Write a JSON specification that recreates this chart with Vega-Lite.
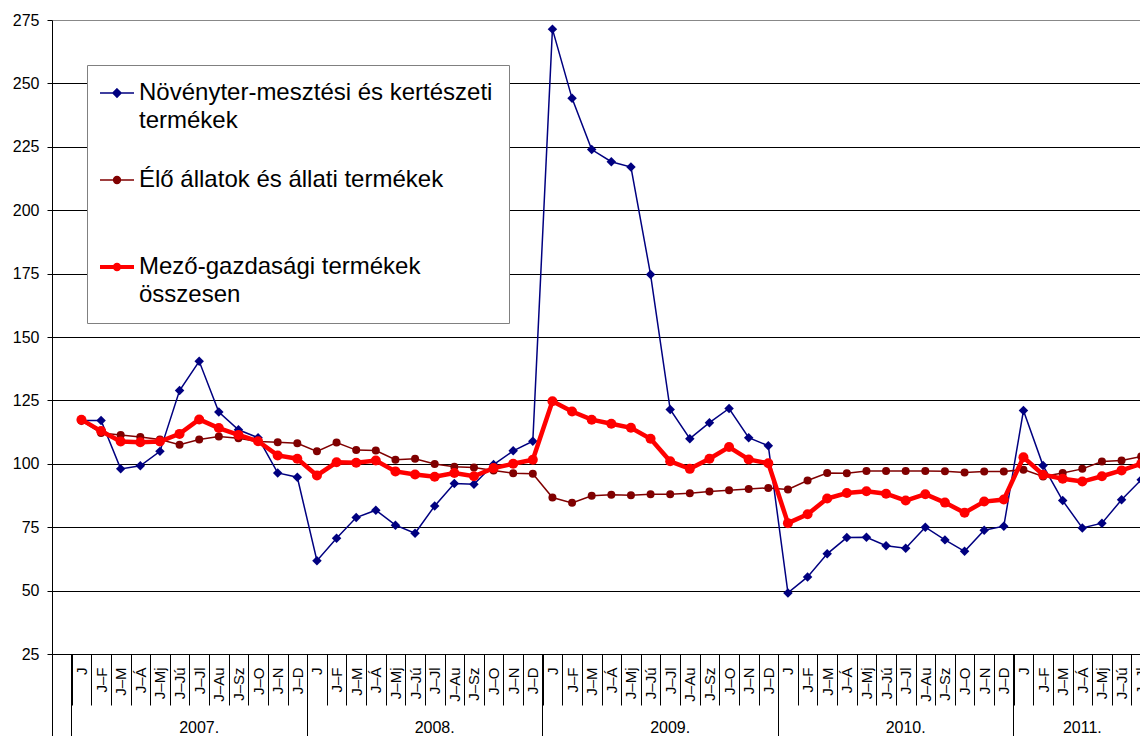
{
  "$schema": "https://vega.github.io/schema/vega-lite/v6.json",
  "width": 1088,
  "height": 634,
  "autosize": {"type": "none"},
  "padding": {"left": 52, "top": 20, "right": 0, "bottom": 82},
  "background": "#ffffff",
  "config": {
    "view": {"stroke": null},
    "font": "Liberation Sans",
    "axis": {"labelFont": "Liberation Sans", "labelColor": "#000000", "domainColor": "#000000", "tickColor": "#000000", "domainWidth": 1, "tickWidth": 1}
  },
  "data": {"values": [
    {"t":"2007-01","s":"A","v":117.1},{"t":"2007-02","s":"A","v":117.1},{"t":"2007-03","s":"A","v":98.0},{"t":"2007-04","s":"A","v":99.2},{"t":"2007-05","s":"A","v":104.9},{"t":"2007-06","s":"A","v":128.9},{"t":"2007-07","s":"A","v":140.4},{"t":"2007-08","s":"A","v":120.4},{"t":"2007-09","s":"A","v":113.4},{"t":"2007-10","s":"A","v":110.3},{"t":"2007-11","s":"A","v":96.4},{"t":"2007-12","s":"A","v":94.7},
    {"t":"2008-01","s":"A","v":61.8},{"t":"2008-02","s":"A","v":70.6},{"t":"2008-03","s":"A","v":78.8},{"t":"2008-04","s":"A","v":81.7},{"t":"2008-05","s":"A","v":75.8},{"t":"2008-06","s":"A","v":72.6},{"t":"2008-07","s":"A","v":83.4},{"t":"2008-08","s":"A","v":92.2},{"t":"2008-09","s":"A","v":91.9},{"t":"2008-10","s":"A","v":99.7},{"t":"2008-11","s":"A","v":105.1},{"t":"2008-12","s":"A","v":108.9},
    {"t":"2009-01","s":"A","v":271.4},{"t":"2009-02","s":"A","v":244.1},{"t":"2009-03","s":"A","v":223.9},{"t":"2009-04","s":"A","v":219.1},{"t":"2009-05","s":"A","v":217.0},{"t":"2009-06","s":"A","v":174.6},{"t":"2009-07","s":"A","v":121.4},{"t":"2009-08","s":"A","v":109.9},{"t":"2009-09","s":"A","v":116.2},{"t":"2009-10","s":"A","v":121.8},{"t":"2009-11","s":"A","v":110.3},{"t":"2009-12","s":"A","v":107.1},
    {"t":"2010-01","s":"A","v":49.1},{"t":"2010-02","s":"A","v":55.4},{"t":"2010-03","s":"A","v":64.5},{"t":"2010-04","s":"A","v":70.9},{"t":"2010-05","s":"A","v":71.0},{"t":"2010-06","s":"A","v":67.7},{"t":"2010-07","s":"A","v":66.7},{"t":"2010-08","s":"A","v":75.0},{"t":"2010-09","s":"A","v":70.0},{"t":"2010-10","s":"A","v":65.5},{"t":"2010-11","s":"A","v":73.8},{"t":"2010-12","s":"A","v":75.4},
    {"t":"2011-01","s":"A","v":121.0},{"t":"2011-02","s":"A","v":99.3},{"t":"2011-03","s":"A","v":85.5},{"t":"2011-04","s":"A","v":74.7},{"t":"2011-05","s":"A","v":76.6},{"t":"2011-06","s":"A","v":85.8},{"t":"2011-07","s":"A","v":93.7},
    {"t":"2007-01","s":"B","v":117.0},{"t":"2007-02","s":"B","v":112.1},{"t":"2007-03","s":"B","v":111.4},{"t":"2007-04","s":"B","v":110.6},{"t":"2007-05","s":"B","v":109.6},{"t":"2007-06","s":"B","v":107.5},{"t":"2007-07","s":"B","v":109.6},{"t":"2007-08","s":"B","v":110.8},{"t":"2007-09","s":"B","v":110.1},{"t":"2007-10","s":"B","v":108.8},{"t":"2007-11","s":"B","v":108.5},{"t":"2007-12","s":"B","v":108.1},
    {"t":"2008-01","s":"B","v":104.9},{"t":"2008-02","s":"B","v":108.4},{"t":"2008-03","s":"B","v":105.4},{"t":"2008-04","s":"B","v":105.2},{"t":"2008-05","s":"B","v":101.6},{"t":"2008-06","s":"B","v":102.0},{"t":"2008-07","s":"B","v":99.9},{"t":"2008-08","s":"B","v":98.8},{"t":"2008-09","s":"B","v":98.5},{"t":"2008-10","s":"B","v":97.4},{"t":"2008-11","s":"B","v":96.3},{"t":"2008-12","s":"B","v":96.1},
    {"t":"2009-01","s":"B","v":86.7},{"t":"2009-02","s":"B","v":84.6},{"t":"2009-03","s":"B","v":87.4},{"t":"2009-04","s":"B","v":87.8},{"t":"2009-05","s":"B","v":87.6},{"t":"2009-06","s":"B","v":88.0},{"t":"2009-07","s":"B","v":88.0},{"t":"2009-08","s":"B","v":88.4},{"t":"2009-09","s":"B","v":89.1},{"t":"2009-10","s":"B","v":89.6},{"t":"2009-11","s":"B","v":90.1},{"t":"2009-12","s":"B","v":90.5},
    {"t":"2010-01","s":"B","v":89.9},{"t":"2010-02","s":"B","v":93.4},{"t":"2010-03","s":"B","v":96.4},{"t":"2010-04","s":"B","v":96.3},{"t":"2010-05","s":"B","v":97.2},{"t":"2010-06","s":"B","v":97.2},{"t":"2010-07","s":"B","v":97.2},{"t":"2010-08","s":"B","v":97.2},{"t":"2010-09","s":"B","v":97.1},{"t":"2010-10","s":"B","v":96.6},{"t":"2010-11","s":"B","v":97.0},{"t":"2010-12","s":"B","v":97.0},
    {"t":"2011-01","s":"B","v":97.7},{"t":"2011-02","s":"B","v":95.0},{"t":"2011-03","s":"B","v":96.4},{"t":"2011-04","s":"B","v":98.0},{"t":"2011-05","s":"B","v":100.9},{"t":"2011-06","s":"B","v":101.3},{"t":"2011-07","s":"B","v":102.9},
    {"t":"2007-01","s":"C","v":117.4},{"t":"2007-02","s":"C","v":112.9},{"t":"2007-03","s":"C","v":108.8},{"t":"2007-04","s":"C","v":108.5},{"t":"2007-05","s":"C","v":108.8},{"t":"2007-06","s":"C","v":111.8},{"t":"2007-07","s":"C","v":117.5},{"t":"2007-08","s":"C","v":114.1},{"t":"2007-09","s":"C","v":111.4},{"t":"2007-10","s":"C","v":108.9},{"t":"2007-11","s":"C","v":103.3},{"t":"2007-12","s":"C","v":102.0},
    {"t":"2008-01","s":"C","v":95.4},{"t":"2008-02","s":"C","v":100.6},{"t":"2008-03","s":"C","v":100.4},{"t":"2008-04","s":"C","v":101.3},{"t":"2008-05","s":"C","v":97.0},{"t":"2008-06","s":"C","v":95.8},{"t":"2008-07","s":"C","v":94.9},{"t":"2008-08","s":"C","v":96.4},{"t":"2008-09","s":"C","v":95.1},{"t":"2008-10","s":"C","v":98.3},{"t":"2008-11","s":"C","v":100.0},{"t":"2008-12","s":"C","v":101.6},
    {"t":"2009-01","s":"C","v":124.7},{"t":"2009-02","s":"C","v":120.6},{"t":"2009-03","s":"C","v":117.4},{"t":"2009-04","s":"C","v":115.8},{"t":"2009-05","s":"C","v":114.2},{"t":"2009-06","s":"C","v":109.9},{"t":"2009-07","s":"C","v":101.0},{"t":"2009-08","s":"C","v":98.0},{"t":"2009-09","s":"C","v":102.0},{"t":"2009-10","s":"C","v":106.6},{"t":"2009-11","s":"C","v":101.7},{"t":"2009-12","s":"C","v":100.2},
    {"t":"2010-01","s":"C","v":76.6},{"t":"2010-02","s":"C","v":80.1},{"t":"2010-03","s":"C","v":86.3},{"t":"2010-04","s":"C","v":88.5},{"t":"2010-05","s":"C","v":89.2},{"t":"2010-06","s":"C","v":88.2},{"t":"2010-07","s":"C","v":85.5},{"t":"2010-08","s":"C","v":88.0},{"t":"2010-09","s":"C","v":84.7},{"t":"2010-10","s":"C","v":80.7},{"t":"2010-11","s":"C","v":85.1},{"t":"2010-12","s":"C","v":85.9},
    {"t":"2011-01","s":"C","v":102.6},{"t":"2011-02","s":"C","v":95.7},{"t":"2011-03","s":"C","v":94.1},{"t":"2011-04","s":"C","v":93.0},{"t":"2011-05","s":"C","v":95.1},{"t":"2011-06","s":"C","v":97.4},{"t":"2011-07","s":"C","v":100.0}
  ]},
  "resolve": {"axis": {"x": "independent"}},
  "layer": [
    {
      "transform": [{"filter": "datum.s === 'A'"}],
      "mark": {"type": "line", "strokeWidth": 1.5, "point": {"shape": "diamond", "size": 90, "filled": true}},
      "encoding": {
        "x": {"field": "t", "type": "ordinal",
          "scale": {"type": "band", "domain": ["x","2007-01","2007-02","2007-03","2007-04","2007-05","2007-06","2007-07","2007-08","2007-09","2007-10","2007-11","2007-12","2008-01","2008-02","2008-03","2008-04","2008-05","2008-06","2008-07","2008-08","2008-09","2008-10","2008-11","2008-12","2009-01","2009-02","2009-03","2009-04","2009-05","2009-06","2009-07","2009-08","2009-09","2009-10","2009-11","2009-12","2010-01","2010-02","2010-03","2010-04","2010-05","2010-06","2010-07","2010-08","2010-09","2010-10","2010-11","2010-12","2011-01","2011-02","2011-03","2011-04","2011-05","2011-06","2011-07"], "range": [0, 1099], "paddingInner": 0, "paddingOuter": 0},
          "axis": {"orient": "bottom", "offset": 0, "title": null, "grid": false, "domain": true, "ticks": true, "tickBand": "extent", "tickSize": 51, "labelAngle": 270, "labelAlign": "right", "labelBaseline": "middle", "labelFontSize": 15, "labelPadding": -38, "labelOverlap": false, "labelExpr": "datum.value === 'x' ? '' : ['J','J–F','J–M','J–Á','J–Mj','J–Jú','J–Jl','J–Au','J–Sz','J–O','J–N','J–D'][toNumber(substring(datum.value,5,7))-1]"}},
        "y": {"field": "v", "type": "quantitative", "scale": {"domain": [25, 275], "nice": false, "zero": false},
          "axis": {"title": null, "values": [25,50,75,100,125,150,175,200,225,250,275], "grid": true, "gridColor": {"condition": {"test": "datum.value === 275", "value": "#888888"}, "value": "#000000"}, "gridWidth": 1, "tickSize": 5, "labelFontSize": 16, "labelPadding": 8, "domain": true}},
        "color": {"field": "s", "type": "nominal",
          "scale": {"domain": ["A","B","C"], "range": ["#000080","#800000","#ff0000"]},
          "legend": {"title": null, "orient": "none", "legendX": 35, "legendY": 45, "padding": 16, "rowPadding": 35, "fillColor": "#ffffff", "strokeColor": "#808080",
            "labelFont": "Liberation Sans", "labelFontSize": 24, "labelColor": "#000000", "labelLimit": 600, "labelOffset": 10, "symbolOffset": 2, "symbolSize": 1156,
            "labelExpr": "datum.value === 'A' ? ['Növényter-mesztési és kertészeti','termékek'] : datum.value === 'B' ? ['Élő állatok és állati termékek',''] : ['Mező-gazdasági termékek','összesen']",
            "encode": {
              "symbols": {"update": {
                "shape": {"signal": "datum.value === 'A' ? 'M-1,0L1,0M0,-0.24L0.24,0L0,0.24L-0.24,0Z' : datum.value === 'B' ? 'M-1,0L1,0M-0.2,0A0.2,0.2,0,1,0,0.2,0A0.2,0.2,0,1,0,-0.2,0Z' : 'M-1,0L1,0M-0.13,0A0.13,0.13,0,1,0,0.13,0A0.13,0.13,0,1,0,-0.13,0Z'"},
                "strokeWidth": {"signal": "datum.value === 'C' ? 4 : 1.5"},
                "fill": {"scale": "color", "field": "value"},
                "stroke": {"scale": "color", "field": "value"},
                "opacity": {"value": 1}
              }},
              "labels": {"update": {"lineHeight": {"value": 28}}}
            }}}
      }
    },
    {
      "transform": [{"filter": "datum.s === 'B'"}],
      "mark": {"type": "line", "strokeWidth": 1.5, "point": {"shape": "circle", "size": 64, "filled": true}},
      "encoding": {
        "x": {"field": "t", "type": "ordinal",
          "axis": {"orient": "bottom", "offset": 0, "title": null, "grid": false, "domain": false, "labels": false, "ticks": true, "bandPosition": 0, "tickSize": 82, "values": ["x","2007-01","2008-01","2009-01","2010-01","2011-01"]}},
        "y": {"field": "v", "type": "quantitative",
          "axis": {"title": null, "values": [25,50,75,100,125,150,175,200,225,250,275], "grid": true, "gridColor": {"condition": {"test": "datum.value === 275", "value": "#888888"}, "value": "#000000"}, "gridWidth": 1, "tickSize": 5, "labelFontSize": 16, "labelPadding": 8, "domain": true}},
        "color": {"field": "s", "type": "nominal", "legend": null}
      }
    },
    {
      "transform": [{"filter": "datum.s === 'C'"}],
      "mark": {"type": "line", "strokeWidth": 4.5, "point": {"shape": "circle", "size": 100, "filled": true}},
      "encoding": {
        "x": {"field": "t", "type": "ordinal",
          "axis": {"orient": "bottom", "offset": 0, "title": null, "grid": false, "domain": false, "ticks": false, "bandPosition": 0, "labelAngle": 0, "labelAlign": "center", "labelBaseline": "top", "labelFontSize": 16, "labelPadding": 65, "labelOverlap": false, "values": ["2007-07","2008-07","2009-07","2010-07","2011-04"], "labelExpr": "substring(datum.value,0,4) + '.'"}},
        "y": {"field": "v", "type": "quantitative",
          "axis": {"title": null, "values": [25,50,75,100,125,150,175,200,225,250,275], "grid": true, "gridColor": {"condition": {"test": "datum.value === 275", "value": "#888888"}, "value": "#000000"}, "gridWidth": 1, "tickSize": 5, "labelFontSize": 16, "labelPadding": 8, "domain": true}},
        "color": {"field": "s", "type": "nominal", "legend": null}
      }
    }
  ]
}
